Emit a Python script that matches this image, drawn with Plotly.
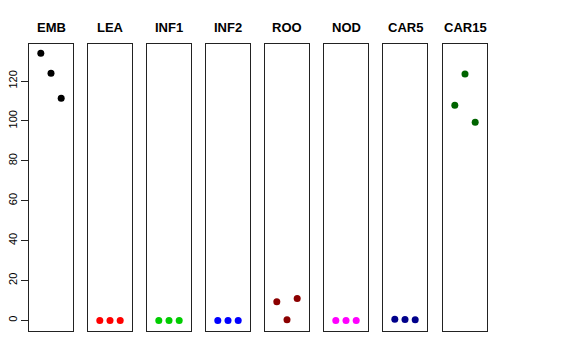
import plotly.graph_objects as go

categories = ["EMB", "LEA", "INF1", "INF2", "ROO", "NOD", "CAR5", "CAR15"]
x_positions = [1, 2, 3]
values = {
    "EMB": [133.9, 123.9, 111.4],
    "LEA": [0.0, 0.0, 0.0],
    "INF1": [0.0, 0.0, 0.0],
    "INF2": [0.0, 0.0, 0.0],
    "ROO": [9.3, 0.3, 11.0],
    "NOD": [0.0, 0.0, 0.0],
    "CAR5": [0.6, 0.5, 0.3],
    "CAR15": [107.9, 123.5, 99.3],
}
colors = ["#000000", "#FF0000", "#00CD00", "#0000FF", "#8B0000", "#FF00FF", "#00008B", "#006400"]
y_ticks = [0, 20, 40, 60, 80, 100, 120]

# page body has an 8px margin; figure is placed at (8, 8)
OFF = 8
W, H = 576 - 2 * OFF, 360 - 2 * OFF
panel_left = [29, 88, 147, 206, 265, 324, 383, 443]
panel_w = 44
top_px, bot_px = 43.5, 331


def fx(px):
    return (px - OFF) / W


def fy(py):
    return 1 - (py - OFF) / H


fig = go.Figure()
layout = dict(
    width=W, height=H,
    margin=dict(l=0, r=0, t=0, b=0, autoexpand=False),
    paper_bgcolor="white", plot_bgcolor="white",
    showlegend=False,
    font=dict(family="Liberation Sans, Arial, sans-serif", color="black"),
)
annotations = []
for i, cat in enumerate(categories):
    n = "" if i == 0 else str(i + 1)
    fig.add_trace(go.Scatter(
        x=x_positions, y=values[cat], mode="markers",
        marker=dict(color=colors[i], size=7),
        xaxis="x" + n, yaxis="y" + n,
    ))
    layout["xaxis" + n] = dict(
        domain=[fx(panel_left[i]), fx(panel_left[i] + panel_w)], range=[-0.16, 4.16],
        showticklabels=False, ticks="",
        showgrid=False, zeroline=False, showline=True, mirror=True, automargin=False,
        linecolor="#222", linewidth=1, anchor="y" + n,
    )
    ydict = dict(
        domain=[fy(bot_px), fy(top_px)], range=[-5.3, 138.8],
        showgrid=False, zeroline=False, showline=True, mirror=True, automargin=False,
        linecolor="#222", linewidth=1, anchor="x" + n,
    )
    if i == 0:
        ydict.update(tickvals=y_ticks, ticks="outside", ticklen=7, tickcolor="#222",
                     tickangle=-90, tickfont=dict(size=11, color="black"))
    else:
        ydict.update(showticklabels=False, ticks="")
    layout["yaxis" + n] = ydict
    annotations.append(dict(
        text="<b>%s</b>" % cat, x=fx(panel_left[i] + panel_w / 2), y=fy(28),
        xref="paper", yref="paper", showarrow=False, xanchor="center", yanchor="middle",
        font=dict(size=13, color="black"),
    ))
layout["annotations"] = annotations
fig.update_layout(**layout)
fig.write_html("out.html")
